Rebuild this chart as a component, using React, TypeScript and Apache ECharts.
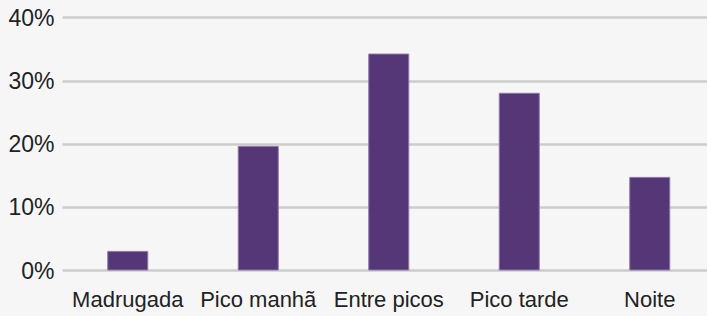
import React, { useEffect, useRef } from "react";
import * as echarts from "echarts";

const categories = ["Madrugada", "Pico manhã", "Entre picos", "Pico tarde", "Noite"];
const values = [3.1, 19.7, 34.3, 28.1, 14.8];
const yTicks = [0, 10, 20, 30, 40];

export default function App() {
  const ref = useRef<HTMLDivElement>(null);
  useEffect(() => {
    const chart = echarts.init(ref.current!, null, { renderer: "svg" });
    chart.setOption({
      animation: false,
      backgroundColor: "#f6f6f6",
      grid: { left: 62.5, right: 5, top: 17.5, bottom: 45.5, containLabel: false },
      xAxis: {
        type: "category",
        data: categories,
        axisLine: { show: false },
        axisTick: { show: false },
        axisLabel: {
          interval: 0,
          color: "#222222",
          fontFamily: "Liberation Sans, Arial, sans-serif",
          fontSize: 22,
          margin: 18,
        },
      },
      yAxis: {
        type: "value",
        min: yTicks[0],
        max: yTicks[yTicks.length - 1],
        interval: 10,
        axisLine: { show: false },
        axisTick: { show: false },
        splitLine: { lineStyle: { color: "#cccccc", width: 2.5 } },
        axisLabel: {
          color: "#222222",
          fontFamily: "Liberation Sans, Arial, sans-serif",
          fontSize: 23,
          margin: 8,
          formatter: (v: number) => `${v}%`,
        },
      },
      series: [
        {
          type: "bar",
          data: values,
          barWidth: 41,
          itemStyle: { color: "#553778", borderColor: "#8c78a8", borderWidth: 1 },
        },
      ],
    });
    return () => chart.dispose();
  }, []);
  return (
    <div style={{ position: "fixed", left: 0, top: 0, width: 707, height: 316, overflow: "hidden" }}>
      <div ref={ref} style={{ width: 720, height: 316 }} />
    </div>
  );
}
